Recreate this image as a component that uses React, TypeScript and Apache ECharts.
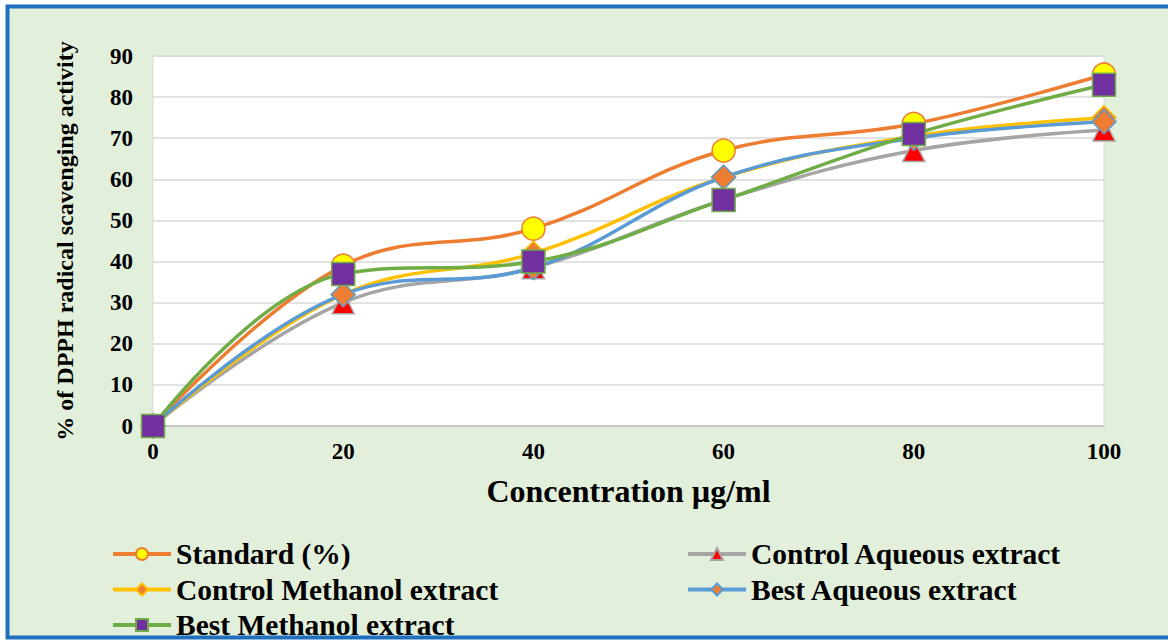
import React, { useEffect, useRef } from "react";
import * as echarts from "echarts";

const concentrations = [0, 20, 40, 60, 80, 100];
const standard = [0, 39, 48, 67, 73.5, 85.5];
const controlAqueous = [0, 30, 38.5, 55, 67, 72];
const controlMethanol = [0, 32, 42, 60.5, 70.5, 75];
const bestAqueous = [0, 32, 38.5, 60.5, 70, 74];
const bestMethanol = [0, 37, 40, 55, 71, 83];

const FONT = "'Liberation Serif', 'Times New Roman', Times, serif";

export default function App() {
  const ref = useRef<HTMLDivElement>(null);
  useEffect(() => {
    const chart = echarts.init(ref.current!, null, { renderer: "svg" });
    const mk = (vals: number[]) => concentrations.map((c, i) => [c, vals[i]]);
    const legendText = { fontFamily: FONT, fontWeight: "bold", fontSize: 29.5, color: "#000", lineHeight: 30 };
    const legendCommon = {
      orient: "vertical",
      top: 534,
      height: 106,
      itemWidth: 58,
      itemHeight: 15,
      itemGap: 5.5,
      textStyle: legendText,
      lineStyle: { width: 4 },
    };
    chart.setOption({
      animation: false,
      graphic: [
        {
          type: "rect",
          z: -10,
          shape: { x: 7.5, y: 6.5, width: 1200, height: 631 },
          style: { fill: "#E2EFDA", stroke: "#1F6FBF", lineWidth: 4 },
        },
      ],
      grid: {
        left: 153,
        right: 64,
        top: 56,
        bottom: 214,
        show: true,
        backgroundColor: "#ffffff",
        borderColor: "#D9D9D9",
        borderWidth: 1,
      },
      legend: [
        {
          ...legendCommon,
          left: 106,
          data: ["Standard (%)", "Control Methanol extract", "Best Methanol extract"],
        },
        {
          ...legendCommon,
          left: 681,
          data: ["Control Aqueous extract", "Best Aqueous extract"],
        },
      ],
      xAxis: {
        type: "value",
        min: 0,
        max: 100,
        interval: 20,
        name: "Concentration µg/ml",
        nameLocation: "middle",
        nameGap: 49,
        nameTextStyle: { fontFamily: FONT, fontWeight: "bold", fontSize: 32, color: "#000" },
        axisLine: { show: true, lineStyle: { color: "#BFBFBF", width: 1.5 } },
        axisTick: { show: false },
        splitLine: { show: false },
        axisLabel: { fontFamily: FONT, fontWeight: "bold", fontSize: 23, color: "#000", margin: 14 },
      },
      yAxis: {
        type: "value",
        min: 0,
        max: 90,
        interval: 10,
        name: "% of DPPH radical scavenging activity",
        nameLocation: "middle",
        nameGap: 76,
        nameTextStyle: { fontFamily: FONT, fontWeight: "bold", fontSize: 24, color: "#000" },
        axisLine: { show: false },
        axisTick: { show: false },
        splitLine: { lineStyle: { color: "#D9D9D9", width: 1.5 } },
        axisLabel: { fontFamily: FONT, fontWeight: "bold", fontSize: 23, color: "#000", margin: 20 },
      },
      series: [
        {
          name: "Standard (%)",
          type: "line",
          smooth: 0.4,
          data: mk(standard),
          lineStyle: { color: "#ED7D31", width: 3.5 },
          symbol: "circle",
          symbolSize: 23,
          itemStyle: { color: "#FFFF00", borderColor: "#ED7D31", borderWidth: 1.5 },
        },
        {
          name: "Control Aqueous extract",
          type: "line",
          smooth: 0.4,
          data: mk(controlAqueous),
          lineStyle: { color: "#A5A5A5", width: 3.5 },
          symbol: "triangle",
          symbolSize: 22,
          itemStyle: { color: "#FF0000", borderColor: "#A5A5A5", borderWidth: 1.5 },
        },
        {
          name: "Control Methanol extract",
          type: "line",
          smooth: 0.4,
          data: mk(controlMethanol),
          lineStyle: { color: "#FFC000", width: 3.5 },
          symbol: "diamond",
          symbolSize: 24,
          itemStyle: { color: "#ED7D31", borderColor: "#FFC000", borderWidth: 1.5 },
        },
        {
          name: "Best Aqueous extract",
          type: "line",
          smooth: 0.4,
          data: mk(bestAqueous),
          lineStyle: { color: "#5B9BD5", width: 3.5 },
          symbol: "diamond",
          symbolSize: 24,
          itemStyle: { color: "#ED7D31", borderColor: "#5B9BD5", borderWidth: 1.5 },
        },
        {
          name: "Best Methanol extract",
          type: "line",
          smooth: 0.4,
          data: mk(bestMethanol),
          lineStyle: { color: "#70AD47", width: 3.5 },
          symbol: "rect",
          symbolSize: 23,
          itemStyle: { color: "#7030A0", borderColor: "#70AD47", borderWidth: 1.5 },
        },
      ],
    });
    return () => chart.dispose();
  }, []);
  return (
    <div
      ref={ref}
      style={{ position: "fixed", left: 0, top: 0, width: 1168, height: 640, background: "#ffffff" }}
    />
  );
}
